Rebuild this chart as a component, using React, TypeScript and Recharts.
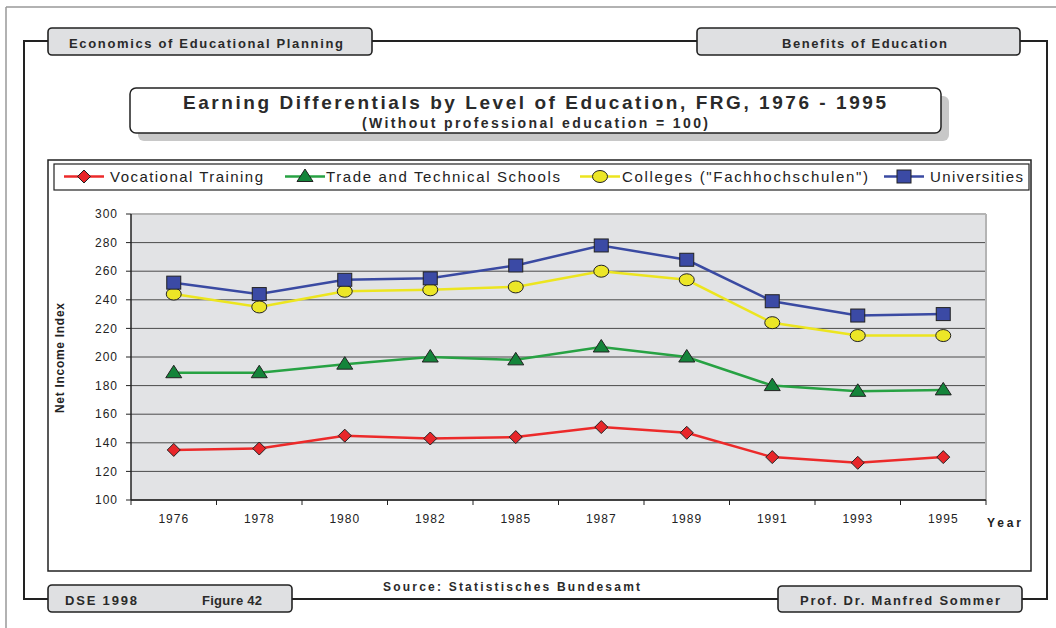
import React from "react";
import {
  LineChart,
  Line,
  XAxis,
  YAxis,
  CartesianGrid,
} from "recharts";

const years = ["1976", "1978", "1980", "1982", "1985", "1987", "1989", "1991", "1993", "1995"];
const vocational = [135, 136, 145, 143, 144, 151, 147, 130, 126, 130];
const trade = [189, 189, 195, 200, 198, 207, 200, 180, 176, 177];
const colleges = [244, 235, 246, 247, 249, 260, 254, 224, 215, 215];
const universities = [252, 244, 254, 255, 264, 278, 268, 239, 229, 230];
const yTicks = [100, 120, 140, 160, 180, 200, 220, 240, 260, 280, 300];

const seriesNames = [
  "Vocational Training",
  "Trade and Technical Schools",
  'Colleges ("Fachhochschulen")',
  "Universities",
];

const data = years.map((year, i) => ({
  year,
  vocational: vocational[i],
  trade: trade[i],
  colleges: colleges[i],
  universities: universities[i],
}));

const W = 1056;
const H = 628;
const PLOT_LEFT = 131;
const PLOT_RIGHT = 986;
const PLOT_TOP = 214;
const PLOT_BOTTOM = 500;
const Y_AXIS_W = 60;
const X_AXIS_H = 30;
const band = (PLOT_RIGHT - PLOT_LEFT) / years.length;

const FONT = '"Liberation Sans", Arial, sans-serif';
const INK = "#222";

const series = [
  { key: "vocational", line: "#ec2a2a", fill: "#e8262a", shape: "diamond" },
  { key: "trade", line: "#27a243", fill: "#14843a", shape: "triangle" },
  { key: "colleges", line: "#ece51f", fill: "#ece627", shape: "circle" },
  { key: "universities", line: "#3a4aa2", fill: "#3b4aa5", shape: "square" },
];

function Marker({ cx, cy, shape, fill }: any) {
  if (cx == null || cy == null) return null;
  const common = { fill, stroke: INK, strokeWidth: 1 };
  if (shape === "diamond")
    return <polygon {...common} points={`${cx},${cy - 6.5} ${cx + 6.5},${cy} ${cx},${cy + 6.5} ${cx - 6.5},${cy}`} />;
  if (shape === "triangle")
    return <polygon {...common} points={`${cx},${cy - 7.5} ${cx + 8},${cy + 5} ${cx - 8},${cy + 5}`} />;
  if (shape === "circle") return <ellipse {...common} cx={cx} cy={cy} rx={7.5} ry={6} />;
  return <rect {...common} x={cx - 7} y={cy - 6.5} width={14} height={13} />;
}

function XTick({ x, y, payload, index }: any) {
  const last = index === years.length - 1;
  return (
    <g>
      <line x1={x - band / 2} x2={x - band / 2} y1={PLOT_BOTTOM} y2={PLOT_BOTTOM + 5} stroke={INK} />
      {last && <line x1={x + band / 2} x2={x + band / 2} y1={PLOT_BOTTOM} y2={PLOT_BOTTOM + 5} stroke={INK} />}
      <text x={x} y={y + 15} textAnchor="middle" fontSize={12} fill={INK} fontFamily={FONT} letterSpacing={1}>
        {payload.value}
      </text>
    </g>
  );
}

function Frame() {
  const box = { fill: "#dfe0e2", stroke: INK, strokeWidth: 1.6 };
  const bold = { fontFamily: FONT, fontWeight: 700, fill: "#2a2a2a", lengthAdjust: "spacing" as const };
  return (
    <svg width={W} height={H} style={{ position: "absolute", left: 0, top: 0 }}>
      <line x1={6} y1={7} x2={W} y2={7} stroke="#999" strokeWidth={1.5} />
      <line x1={6} y1={7} x2={6} y2={H} stroke="#999" strokeWidth={1.5} />
      <rect x={24} y={41} width={1023} height={558} fill="none" stroke={INK} strokeWidth={2} />

      <rect x={48} y={28} width={324} height={27} rx={4} {...box} />
      <text x={69} y={47.5} fontSize={13} textLength={274} {...bold}>Economics of Educational Planning</text>
      <rect x={697} y={28} width={323} height={27} rx={4} {...box} />
      <text x={782} y={47.5} fontSize={13} textLength={165} {...bold}>Benefits of Education</text>

      <rect x={138} y={96} width={811} height={45} rx={6} fill="#c8c8c8" />
      <rect x={130} y={88} width={811} height={45} rx={6} fill="#fff" stroke={INK} strokeWidth={1.5} />
      <text x={183} y={109} fontSize={19} textLength={703} {...bold}>
        Earning Differentials by Level of Education, FRG, 1976 - 1995
      </text>
      <text x={362} y={127.5} fontSize={14} textLength={346} {...bold}>(Without professional education = 100)</text>

      <rect x={48} y={160} width={983} height={411} fill="#fff" stroke={INK} strokeWidth={1.5} />

      <rect x={48} y={585} width={244} height={27} rx={4} {...box} />
      <text x={65} y={605} fontSize={13} textLength={72} {...bold}>DSE 1998</text>
      <text x={202} y={605} fontSize={13} textLength={60} {...bold}>Figure 42</text>
      <text x={383} y={590.5} fontSize={12} textLength={257} {...bold}>Source: Statistisches Bundesamt</text>
      <rect x={778} y={586} width={244} height={26} rx={4} {...box} />
      <text x={800} y={605} fontSize={13} textLength={200} {...bold}>Prof. Dr. Manfred Sommer</text>
    </svg>
  );
}

const legendLayout = [
  { lineX: 64, textX: 110, textW: 153 },
  { lineX: 285, textX: 326, textW: 234 },
  { lineX: 580, textX: 622, textW: 246 },
  { lineX: 884, textX: 930, textW: 93 },
];

function Overlay() {
  return (
    <svg width={W} height={H} style={{ position: "absolute", left: 0, top: 0, pointerEvents: "none" }}>
      <rect x={54} y={164} width={975} height={26} fill="none" stroke={INK} strokeWidth={1.2} />
      {series.map((s, i) => {
        const l = legendLayout[i];
        return (
          <g key={s.key}>
            <line x1={l.lineX} x2={l.lineX + 40} y1={176.5} y2={176.5} stroke={s.line} strokeWidth={2.5} />
            <Marker cx={l.lineX + 20} cy={176.5} shape={s.shape} fill={s.fill} />
            <text x={l.textX} y={182} fontSize={15} fontFamily={FONT} fill={INK} textLength={l.textW} lengthAdjust="spacing">
              {seriesNames[i]}
            </text>
          </g>
        );
      })}
      <text
        transform={`translate(64, ${(PLOT_TOP + PLOT_BOTTOM) / 2 + 1}) rotate(-90)`}
        x={-55}
        fontSize={12}
        fontWeight={700}
        fontFamily={FONT}
        fill={INK}
        textLength={110}
        lengthAdjust="spacing"
      >
        Net Income Index
      </text>
      <text x={987} y={527} fontSize={12} fontWeight={700} fontFamily={FONT} fill={INK} textLength={34} lengthAdjust="spacing">
        Year
      </text>
    </svg>
  );
}

export default function App() {
  return (
    <div style={{ position: "absolute", left: 0, top: 0, width: W, height: H, background: "#fff", overflow: "hidden" }}>
      <Frame />
      <div style={{ position: "absolute", left: 0, top: 0 }}>
        <LineChart
          width={W}
          height={H}
          data={data}
          margin={{
            top: PLOT_TOP,
            bottom: H - PLOT_BOTTOM - X_AXIS_H,
            left: PLOT_LEFT - Y_AXIS_W,
            right: W - PLOT_RIGHT,
          }}
        >
          <CartesianGrid vertical={false} stroke="#4a4a4a" fill="#e2e3e5" />
          <CartesianGrid
            horizontalPoints={[PLOT_TOP]}
            verticalPoints={[PLOT_RIGHT]}
            stroke="#b4b4b4"
            strokeWidth={2}
          />
          <XAxis
            dataKey="year"
            scale="point"
            padding={{ left: band / 2, right: band / 2 }}
            height={X_AXIS_H}
            interval={0}
            tickLine={false}
            axisLine={{ stroke: INK, strokeWidth: 1.5 }}
            tick={<XTick />}
          />
          <YAxis
            domain={[100, 300]}
            ticks={yTicks}
            width={Y_AXIS_W}
            tickSize={5}
            tickMargin={8}
            axisLine={{ stroke: INK, strokeWidth: 1.5 }}
            tickLine={{ stroke: INK }}
            tick={{ fill: INK, fontSize: 12, fontFamily: FONT, letterSpacing: 1 }}
          />
          {series.map((s) => (
            <Line
              key={s.key}
              dataKey={s.key}
              stroke={s.line}
              strokeWidth={2.5}
              isAnimationActive={false}
              dot={(p: any) => <Marker key={`${s.key}-${p.index}`} cx={p.cx} cy={p.cy} shape={s.shape} fill={s.fill} />}
              activeDot={false}
            />
          ))}
        </LineChart>
      </div>
      <Overlay />
    </div>
  );
}
